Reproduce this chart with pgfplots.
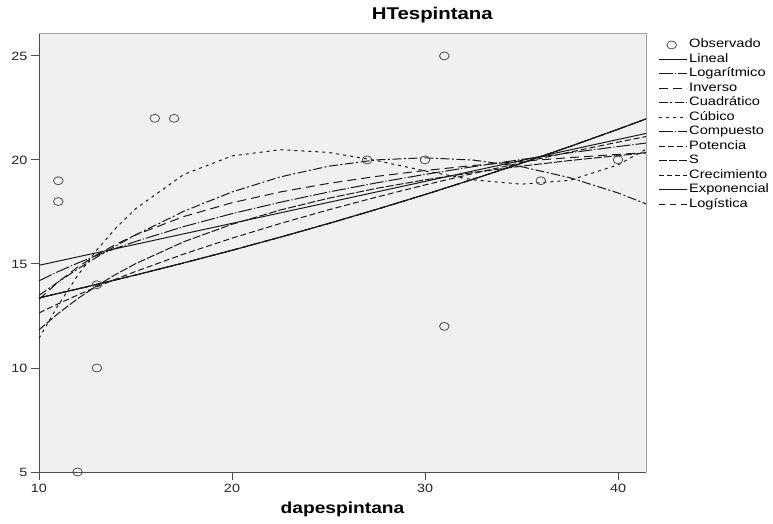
\documentclass[border=0pt]{standalone}
\usepackage{fontspec}
\setmainfont{Liberation Sans}[FakeStretch=1.2]
\usepackage{pgfplots}
\usepackage{pgfplotstable}
\pgfplotsset{compat=1.18}
\definecolor{bgc}{HTML}{F0F0F0}
\definecolor{axc}{HTML}{4D4D4D}
\definecolor{lnc}{HTML}{1A1A1A}
\pgfplotsset{obslegend/.style={legend image code/.code={\path[draw=none] (0pt,0pt) -- (28pt,0pt); \draw[##1, only marks] plot coordinates {(13pt,0pt)};}}}
\pgfplotstableread{
x y
11 19
11 18
12 5
13 14
13 10
16 22
17 22
27 20
30 20
31 25
31 12
36 19
40 20
}\obsdata
\pgfplotstableread{
x y
10 13.367
12.5 13.907
15 14.467
17.5 15.050
20 15.656
22.5 16.287
25 16.943
27.5 17.626
30 18.335
32.5 19.074
35 19.842
37.5 20.642
40 21.473
41.45 21.971
}\expdata
\pgfplotstableread{
x ylog ypow yinv ys yquad ycub
10 14.191 12.645 13.294 11.832 13.490 11.424
11 14.635 13.088 14.139 12.625 14.137 13.027
12 15.040 13.505 14.844 13.327 14.751 14.441
13 15.412 13.901 15.440 13.951 15.331 15.675
14 15.757 14.277 15.950 14.508 15.878 16.741
15 16.078 14.637 16.393 15.010 16.391 17.650
17.5 16.796 15.475 17.278 16.066 17.530 19.299
20 17.417 16.239 17.942 16.906 18.460 20.191
22.5 17.965 16.944 18.459 17.591 19.183 20.491
25 18.456 17.600 18.872 18.157 19.697 20.361
27.5 18.899 18.216 19.210 18.635 20.003 19.967
30 19.304 18.797 19.492 19.042 20.101 19.471
32.5 19.677 19.348 19.730 19.394 19.991 19.039
35 20.021 19.872 19.934 19.700 19.673 18.834
37.5 20.342 20.373 20.111 19.970 19.146 19.021
40 20.643 20.854 20.266 20.209 18.412 19.762
41.45 20.809 21.123 20.348 20.336 17.891 20.511
}\fitdata
\begin{document}
\begin{tikzpicture}
\path[use as bounding box] (-39pt,-51pt) rectangle (734pt,472pt);
\begin{axis}[
  at={(0pt,0pt)}, anchor=south west,
  scale only axis, width=607pt, height=439pt,
  xmin=10, xmax=41.45, ymin=5, ymax=26.1,
  xtick={10,20,30,40}, ytick={5,10,15,20,25},
  axis x line*=bottom, axis y line*=left,
  axis line style={axc, line width=0.9pt},
  axis background/.style={fill=bgc},
  tick align=outside, major tick length=8pt,
  tick style={axc, line width=0.9pt},
  /pgf/number format/assume math mode=true,
  ticklabel style={font=\fontsize{12}{14}\selectfont, text=black!85},
  xticklabel style={anchor=base, yshift=-12pt},
  yticklabel style={anchor=east},
  title={HTespintana},
  title style={at={(0.648,1)}, anchor=base, yshift=7.5pt, font=\fontsize{17}{20}\selectfont\bfseries},
  xlabel={dapespintana},
  xlabel style={at={(0.5,0)}, anchor=base, yshift=-41pt, font=\fontsize{16}{19}\selectfont\bfseries},
  legend cell align=left,
  legend style={draw=none, fill=none, at={(1,1)}, anchor=north west, xshift=12pt, yshift=-4pt,
    font=\fontsize{12.2}{14}\selectfont, row sep=-1pt, inner sep=0pt,
    nodes={text height=8.5pt, text depth=3pt},
    /tikz/every even column/.append style={column sep=2pt}},
  legend image code/.code={\draw[#1] (0pt,0pt) -- (28pt,0pt);},
  every axis plot/.append style={line width=1pt, color=lnc},
  after end axis/.code={\draw[gray!75, line width=0.9pt] (rel axis cs:0,1) -- (rel axis cs:1,1) -- (rel axis cs:1,0);},
]
\addplot[only marks, mark=o, mark size=4pt, color=axc, mark options={xscale=1.2, line width=0.8pt}, obslegend]
  table[x=x,y=y] {\obsdata};
\addlegendentry{Observado}
\addplot[solid] coordinates {(10,14.935) (41.45,21.274)};
\addlegendentry{Lineal}
\addplot[dash pattern=on 14pt off 2pt on 1.2pt off 2pt] table[x=x,y=ylog] {\fitdata};
\addlegendentry{Logarítmico}
\addplot[dash pattern=on 9pt off 5pt] table[x=x,y=yinv] {\fitdata};
\addlegendentry{Inverso}
\addplot[dash pattern=on 9pt off 2.5pt on 2pt off 2.5pt] table[x=x,y=yquad] {\fitdata};
\addlegendentry{Cuadrático}
\addplot[dash pattern=on 3pt off 4pt] table[x=x,y=ycub] {\fitdata};
\addlegendentry{Cúbico}
\addplot[dash pattern=on 14pt off 2pt on 1.2pt off 2pt] table[x=x,y=y] {\expdata};
\addlegendentry{Compuesto}
\addplot[dash pattern=on 6pt off 3pt] table[x=x,y=ypow] {\fitdata};
\addlegendentry{Potencia}
\addplot[dash pattern=on 8pt off 2pt] table[x=x,y=ys] {\fitdata};
\addlegendentry{S}
\addplot[dash pattern=on 5pt off 3pt] table[x=x,y=y] {\expdata};
\addlegendentry{Crecimiento}
\addplot[solid] table[x=x,y=y] {\expdata};
\addlegendentry{Exponencial}
\addplot[dash pattern=on 6pt off 5pt] table[x=x,y=y] {\expdata};
\addlegendentry{Logística}
\end{axis}
\end{tikzpicture}
\end{document}
